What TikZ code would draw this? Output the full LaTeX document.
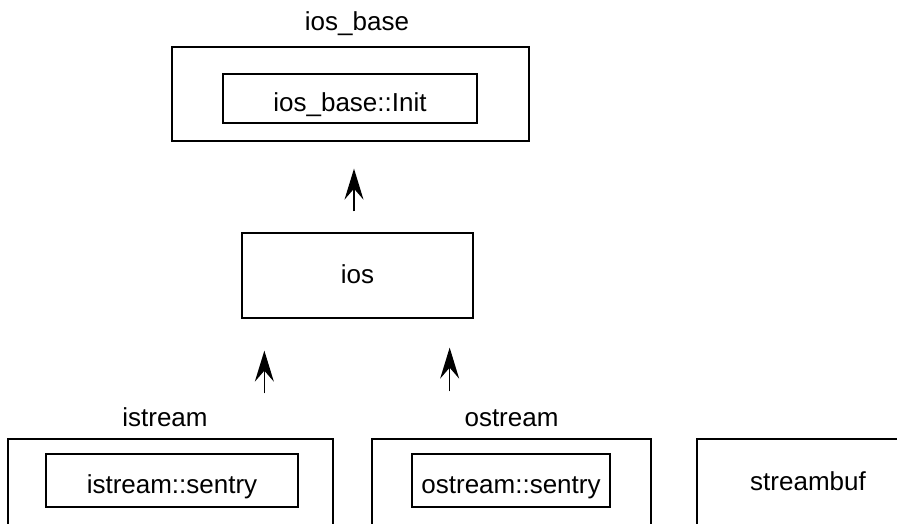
\documentclass[tikz,border=0pt]{standalone}
\usepackage{fontspec}
\setmainfont{Liberation Sans}
\usetikzlibrary{arrows.meta,positioning}

\begin{document}
\begin{tikzpicture}[x=1pt, y=-1pt, font=\fontsize{26}{31}\selectfont, node distance=12pt]
    \tikzstyle{outer}=[draw, line width=1.3pt, inner sep=0pt]
    \tikzstyle{inner}=[draw, line width=1.3pt, inner sep=0pt, minimum height=53pt,
      text height=25pt, text depth=0pt]
    \tikzstyle{title}=[inner sep=0pt, text depth=0pt]
    \tikzstyle{arrow}=[-{Stealth[length=31pt, width=19pt, inset=11pt]}, line width=1.3pt]

    \useasboundingbox (0,0) rectangle (897,523);
    \clip (0,0) rectangle (897,523);

    % top: ios_base with its nested Init
    \node[outer, minimum width=357pt, minimum height=94pt] (iosbase) at (350.5,94) {};
    \node[inner, minimum width=254pt, minimum height=49pt, text height=26pt] (init)
      at (350,98.5) {ios\_base::Init};
    \node[title, above=16pt of iosbase, xshift=6.5pt] (iosbaselbl) {ios\_base};

    % middle
    \node[outer, minimum width=231pt, minimum height=85pt, text height=15pt, text depth=0pt]
      (ios) at (357.5,275.5) {ios};

    % bottom row
    \node[outer, minimum width=325pt, minimum height=100pt] (istream) at (170.5,489) {};
    \node[inner, minimum width=252pt] (isentry) at (172,480.5) {istream::sentry};
    \node[title, above=12pt of istream, xshift=-5.5pt] (istreamlbl) {istream};

    \node[outer, minimum width=279pt, minimum height=100pt] (ostream) at (511.5,489) {};
    \node[inner, minimum width=198pt] (osentry) at (511,480.5) {ostream::sentry};
    \node[title, above=12pt of ostream] (ostreamlbl) {ostream};

    \node[outer, minimum width=222pt, minimum height=90pt, text height=12pt, text depth=0pt]
      (streambuf) at (808,484) {streambuf};

    % inheritance arrows
    \draw[arrow, shorten <=21pt, shorten >=27pt]
      ([xshift=-3.5pt]ios.north) -- ([xshift=-3.5pt]ios.north |- iosbase.south);
    \draw[arrow, shorten <=45pt, shorten >=32pt]
      ([xshift=23pt]ios.south west |- istream.north) -- ([xshift=23pt]ios.south west);
    \draw[arrow, shorten <=47pt, shorten >=29pt]
      ([xshift=-24pt]ios.south east |- ostream.north) -- ([xshift=-24pt]ios.south east);
  \end{tikzpicture}
\end{document}
